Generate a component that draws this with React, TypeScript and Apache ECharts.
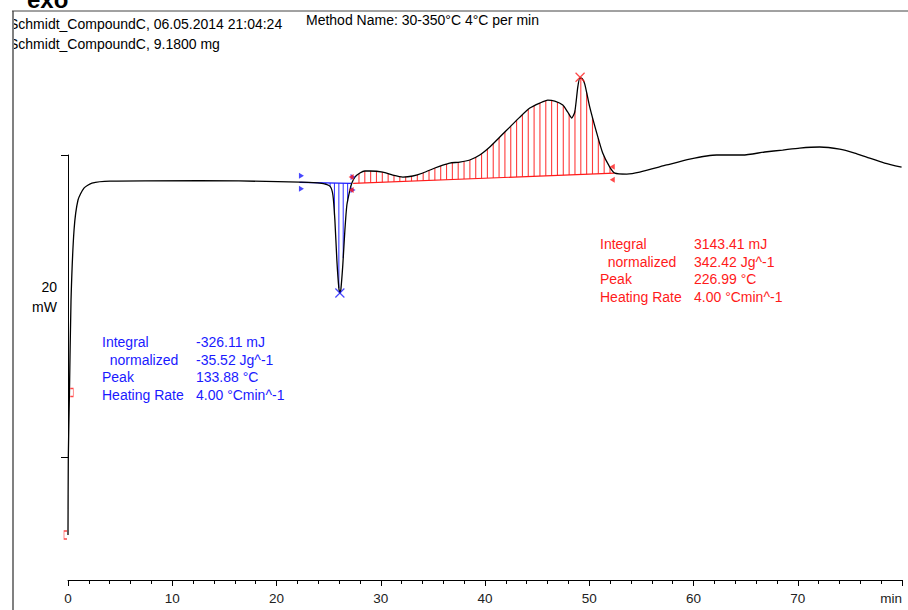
import React, { useEffect, useRef } from 'react';
import * as echarts from 'echarts';

// DSC curve: time (min) vs heat flow (mW, arbitrary offset)
const timeMin = [
  0, 0.03, 0.14, 0.29, 0.58, 0.96, 1.53, 2.3, 4.03, 12.66, 20.13, 22.24, 24.16, 25.12, 25.41, 25.6,
  25.79, 25.98, 26.08, 26.17, 26.36, 26.56, 26.75, 27.04, 27.23, 27.52, 28.0, 28.48, 28.95, 30.2,
  31.16, 32.12, 33.08, 34.04, 35.19, 35.95, 36.62, 37.58, 38.54, 39.5, 40.46, 41.42, 42.38, 43.34,
  44.3, 45.25, 46.02, 46.69, 47.46, 47.94, 48.32, 48.61, 48.9, 49.09, 49.28, 49.57, 50.05, 50.72,
  51.29, 51.97, 52.45, 53.6, 54.84, 57.43, 59.64, 62.22, 64.72, 66.83, 68.55, 70.18, 72.1, 74.02,
  75.46, 76.61, 78.33, 79.96,
];
const heatFlow = [
  -5.12, 0.05, 4.35, 10.44, 15.08, 17.07, 17.86, 18.19, 18.32, 18.36, 18.29, 18.26, 18.19, 17.99,
  17.4, 15.74, 13.09, 11.24, 10.91, 11.11, 12.76, 15.08, 16.74, 17.73, 18.19, 18.59, 18.86, 18.99,
  18.99, 18.92, 18.72, 18.59, 18.66, 18.86, 19.19, 19.38, 19.52, 19.58, 19.72, 20.05, 20.58, 21.24,
  21.9, 22.56, 23.16, 23.49, 23.69, 23.62, 23.36, 22.89, 22.5, 22.89, 24.55, 25.15, 25.15, 24.75,
  23.22, 21.5, 20.18, 19.25, 18.85, 18.79, 18.92, 19.39, 19.78, 20.05, 20.05, 20.25, 20.38, 20.51,
  20.58, 20.44, 20.18, 19.91, 19.52, 19.25,
];

// integration limits (time) and baseline values
const blueBaseT = [22.2, 27.15];
const blueBaseV = [18.24, 18.17];
const redBaseT = [27.35, 52.4];
const redBaseV = [18.17, 18.85];
const blueHatchStep = 0.42;
const redHatchStep = 0.56;

const bluePeak = [26.08, 10.91];
const redPeak = [49.12, 25.2];

// start markers
const startMarkLow = [-0.24, -5.12];
const startMarkHigh = [0.36, 4.32];

const xMin = 0;
const xMax = 80;
const xInterval = 10;
const xEndLabel = 'min';

const scaleBar = [0, 20];
const scaleLabel = ['20', 'mW'];

const headerLines = ['Schmidt_CompoundC, 06.05.2014 21:04:24', 'Schmidt_CompoundC, 9.1800 mg'];
const methodText = 'Method Name: 30-350°C 4°C per min';
const resultNames = ['Integral', '  normalized', 'Peak', 'Heating Rate'];
const blueResults = ['-326.11 mJ', '-35.52 Jg^-1', '133.88 °C', '4.00 °Cmin^-1'];
const redResults = ['3143.41 mJ', '342.42 Jg^-1', '226.99 °C', '4.00 °Cmin^-1'];

const FONT = '"Liberation Sans", Arial, sans-serif';
const BLUE = '#1a1aff';
const RED = '#ff1a1a';

function curveAt(t: number): number {
  for (let i = 0; i < timeMin.length - 1; i++) {
    if (t >= timeMin[i] && t <= timeMin[i + 1]) {
      const f = (t - timeMin[i]) / (timeMin[i + 1] - timeMin[i]);
      return heatFlow[i] + f * (heatFlow[i + 1] - heatFlow[i]);
    }
  }
  return heatFlow[heatFlow.length - 1];
}

function hatch(bt: number[], bv: number[], step: number) {
  const out: number[][] = [];
  for (let t = bt[0] + step; t < bt[1]; t += step) {
    const b = bv[0] + ((t - bt[0]) / (bt[1] - bt[0])) * (bv[1] - bv[0]);
    out.push([t, b, curveAt(t)]);
  }
  return out;
}

function hatchSeries(data: number[][], color: string) {
  return {
    type: 'custom',
    xAxisIndex: 0,
    yAxisIndex: 0,
    data,
    encode: { x: 0, y: [1, 2] },
    renderItem: (_p: any, api: any) => {
      const a = api.coord([api.value(0), api.value(1)]);
      const b = api.coord([api.value(0), api.value(2)]);
      return {
        type: 'line',
        shape: { x1: a[0], y1: a[1], x2: b[0], y2: b[1] },
        style: { stroke: color, lineWidth: 1.1, opacity: 0.85 },
      };
    },
    z: 1,
  };
}

const FLAG_R = 'path://M0,0L5,3L0,6Z';
const FLAG_L = 'path://M5,0L0,3L5,6Z';
const CROSS = 'path://M0,0L10,10M10,0L0,10';

function flags(t: number, v: number, right: boolean, color: string) {
  const sym = right ? FLAG_R : FLAG_L;
  const off = right ? 2 : -2;
  return [
    { value: [t, v + 0.43], symbol: sym, symbolOffset: [off, 0], itemStyle: { color } },
    { value: [t, v - 0.43], symbol: sym, symbolOffset: [off, 0], itemStyle: { color } },
  ];
}

export default function App() {
  const ref = useRef<HTMLDivElement>(null);
  useEffect(() => {
    if (!ref.current) return;
    const chart = echarts.init(ref.current, null, { renderer: 'svg' });
    const curve = timeMin.map((t, i) => [t, heatFlow[i]]);

    const graphics: any[] = [];
    graphics.push({
      type: 'text', left: 27, top: -13, z: 10,
      style: { text: 'exo', font: `bold 24px ${FONT}`, fill: '#000' },
    });
    headerLines.forEach((s, i) => {
      graphics.push({
        type: 'text', x: 9, y: 24 + i * 20, z: 10,
        style: { text: s, font: `14px ${FONT}`, fill: '#000', verticalAlign: 'middle' },
      });
    });
    graphics.push({
      type: 'text', x: 306, y: 20, z: 10,
      style: { text: methodText, font: `14px ${FONT}`, fill: '#000', verticalAlign: 'middle' },
    });
    graphics.push({ type: 'rect', shape: { x: 0, y: 14, width: 12.5, height: 45 }, style: { fill: '#fff' }, z: 11 });
    graphics.push({
      type: 'line', shape: { x1: 13, y1: 11, x2: 13, y2: 610 }, style: { stroke: '#808080', lineWidth: 2 }, z: 12,
    });
    graphics.push({
      type: 'line', shape: { x1: 12, y1: 11, x2: 908, y2: 11 }, style: { stroke: '#444', lineWidth: 1 }, z: 12,
    });
    scaleLabel.forEach((s, i) => {
      graphics.push({
        type: 'text', x: 57, y: 287 + i * 20, z: 10,
        style: { text: s, font: `14px ${FONT}`, fill: '#000', align: 'right', verticalAlign: 'middle' },
      });
    });
    const block = (x0: number, xv: number, y0: number, vals: string[], color: string) => {
      resultNames.forEach((n, i) => {
        graphics.push({
          type: 'text', x: x0, y: y0 + i * 17.6, z: 10,
          style: { text: n, font: `14px ${FONT}`, fill: color, verticalAlign: 'middle' },
        });
        graphics.push({
          type: 'text', x: xv, y: y0 + i * 17.6, z: 10,
          style: { text: vals[i], font: `14px ${FONT}`, fill: color, verticalAlign: 'middle' },
        });
      });
    };
    block(102, 196, 342, blueResults, BLUE);
    block(600, 694, 244, redResults, RED);

    chart.setOption({
      animation: false,
      backgroundColor: '#fff',
      grid: [
        { left: 68, right: 6, top: 35, bottom: 30 },
        { left: 68, right: 600, top: 155, bottom: 153 },
      ],
      xAxis: [
        {
          type: 'value', gridIndex: 0, min: xMin, max: xMax, interval: xInterval,
          axisLine: { show: true, onZero: false, lineStyle: { color: '#000', width: 1 } },
          axisTick: { show: true, length: 6, lineStyle: { color: '#000' } },
          minorTick: { show: true, splitNumber: 5, length: 4, lineStyle: { color: '#000' } },
          splitLine: { show: false },
          minorSplitLine: { show: false },
          axisLabel: {
            color: '#222', fontSize: 13.5, fontFamily: FONT, margin: 11,
            alignMaxLabel: 'right',
            formatter: (v: number) => (v === xMax ? xEndLabel : String(v)),
          },
        },
        { type: 'value', gridIndex: 1, show: false, min: 0, max: 1 },
      ],
      yAxis: [
        { type: 'value', gridIndex: 0, min: -8.1, max: 28, show: false },
        {
          type: 'value', gridIndex: 1, min: scaleBar[0], max: scaleBar[1], interval: scaleBar[1] - scaleBar[0],
          axisLine: { show: true, lineStyle: { color: '#000', width: 1 } },
          axisTick: { show: true, length: 7, lineStyle: { color: '#000' } },
          axisLabel: { show: false },
          splitLine: { show: false },
        },
      ],
      graphic: graphics,
      series: [
        hatchSeries(hatch(blueBaseT, blueBaseV, blueHatchStep), BLUE),
        hatchSeries(hatch(redBaseT, redBaseV, redHatchStep), RED),
        {
          type: 'line', data: blueBaseT.map((t, i) => [t, blueBaseV[i]]), showSymbol: false,
          lineStyle: { color: BLUE, width: 1.2 }, z: 2,
        },
        {
          type: 'line', data: redBaseT.map((t, i) => [t, redBaseV[i]]), showSymbol: false,
          lineStyle: { color: RED, width: 1.2 }, z: 2,
        },
        {
          type: 'line', data: curve, showSymbol: false, smooth: 0.2,
          lineStyle: { color: '#000', width: 1.3 }, z: 3,
        },
        {
          type: 'scatter', symbolSize: [5, 6], z: 4, clip: false,
          data: [
            ...flags(blueBaseT[0], blueBaseV[0], true, BLUE),
            ...flags(blueBaseT[1], blueBaseV[1], true, BLUE),
            ...flags(redBaseT[0], redBaseV[0], false, RED),
            ...flags(redBaseT[1], redBaseV[1], false, RED),
          ],
        },
        {
          type: 'scatter', symbol: CROSS, symbolSize: 9, z: 5,
          data: [
            { value: bluePeak, itemStyle: { color: 'none', borderColor: BLUE, borderWidth: 1.2 } },
            { value: redPeak, itemStyle: { color: 'none', borderColor: RED, borderWidth: 1.2 } },
          ],
        },
        {
          type: 'scatter', z: 5, clip: false,
          data: [
            { value: startMarkLow, symbol: 'path://M3,0L0,0L0,8L3,8', symbolSize: [3, 8],
              itemStyle: { color: 'none', borderColor: RED, borderWidth: 1 } },
            { value: startMarkHigh, symbol: 'path://M0,0L3,0L3,8L0,8', symbolSize: [3, 8],
              itemStyle: { color: 'none', borderColor: RED, borderWidth: 1 } },
          ],
        },
      ],
    });
    return () => chart.dispose();
  }, []);
  return <div ref={ref} style={{ position: 'fixed', left: 0, top: 0, width: 908, height: 610 }} />;
}
